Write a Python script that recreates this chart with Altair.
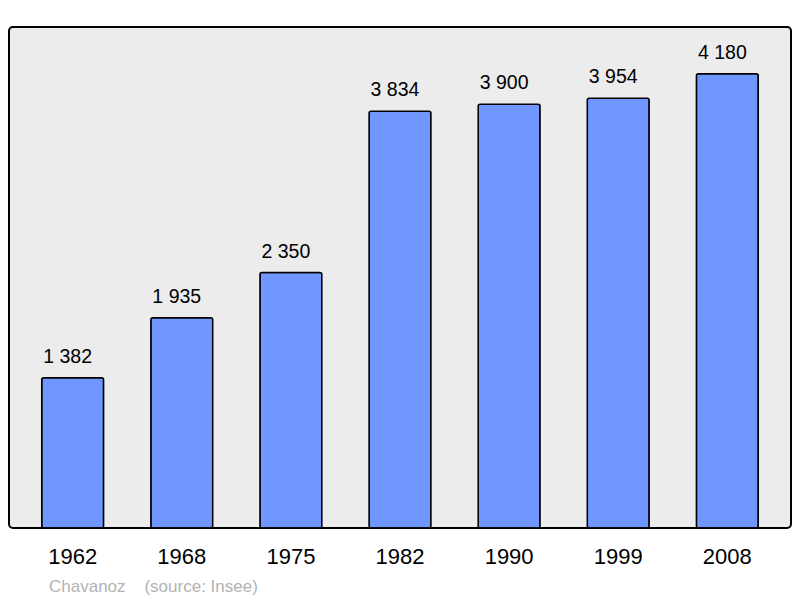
import altair as alt
import pandas as pd

years = ["1962", "1968", "1975", "1982", "1990", "1999", "2008"]
population = [1382, 1935, 2350, 3834, 3900, 3954, 4180]
labels = ["1 382", "1 935", "2 350", "3 834", "3 900", "3 954", "4 180"]

df = pd.DataFrame({"year": years, "pop": population, "label": labels})

FONT = "Liberation Sans"

x = alt.X("year:N", sort=years, title=None,
          scale=alt.Scale(paddingInner=0.433, paddingOuter=0.3),
          axis=alt.Axis(labelAngle=0, labelFontSize=22, labelFont=FONT,
                        labelColor="#000000", ticks=False, domain=False,
                        labelPadding=18, grid=False))
y = alt.Y("pop:Q", title=None, scale=alt.Scale(domain=[0, 4610], nice=False),
          axis=None)

bars = alt.Chart(df).mark_bar(color="#7097ff", stroke="#000000",
                              strokeWidth=1.5, cornerRadius=2).encode(x=x, y=y)

text = alt.Chart(df).mark_text(font=FONT, fontSize=19.5, color="#000000",
                               baseline="alphabetic", dy=-15, dx=-5).encode(
    x=alt.X("year:N", sort=years), y="pop:Q", text="label:N")

chart = (bars + text).properties(
    width=782, height=501,
    padding={"left": 1, "top": 19, "right": 1, "bottom": 70},
    autosize=alt.AutoSizeParams(type="none"),
    title=alt.TitleParams("Chavanoz\u00a0\u00a0\u00a0\u00a0(source: Insee)",
                          orient="bottom", anchor="start", dx=40, offset=12,
                          fontSize=17, font=FONT, fontWeight="normal",
                          color="#b3b3b3"),
).configure_view(
    fill="#ececec", stroke="#000000", strokeWidth=2, cornerRadius=4
)

chart.save("out.html", embed_options={"renderer": "svg", "actions": False})
